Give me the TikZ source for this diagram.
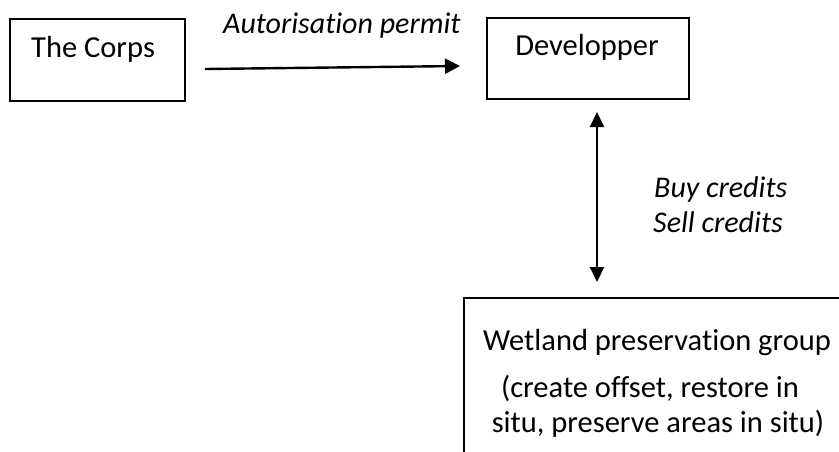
\documentclass[tikz,border=0pt]{standalone}
\usepackage{fontspec}
\setmainfont{Carlito}[Ligatures=NoCommon]
\usetikzlibrary{arrows.meta}
\begin{document}
\begin{tikzpicture}[x=1pt,y=-1pt,
  box/.style={draw, line width=1.5pt, inner sep=0pt, anchor=north west},
  txt/.style={inner sep=0pt, font=\fontsize{30.5}{36}\selectfont},
  itxt/.style={inner sep=0pt, font=\fontsize{30}{36}\selectfont\itshape},
  arr/.style={line width=2.4pt, -{Triangle[length=15pt,width=15pt]}},
  darr/.style={line width=2pt, {Triangle[length=15pt,width=14pt]}-{Triangle[length=15pt,width=14pt]}}]
\useasboundingbox (0,0) rectangle (839,451);
\clip (0,0) rectangle (839,451);
% boxes
\node[box, minimum width=175pt, minimum height=82pt] (corps) at (9,18) {};
\node[box, minimum width=202pt, minimum height=81pt] (dev) at (486,17) {};
\node[box, minimum width=420pt, minimum height=220pt] (wet) at (463,297) {};
% box texts
\node[txt, anchor=base west] (corpst) at (31,57) {The Corps};
\node[txt, anchor=base] (devt) at (587,55) {Developper};
\node[txt, anchor=base] (wet1) at (657,350) {Wetland preservation group};
\node[txt, anchor=base] (wet2) at (650,397) {(create offset, restore in};
\node[txt, anchor=base] (wet3) at (658,432) {situ, preserve areas in situ)};
% connectors
\coordinate (h1) at (205,69);
\coordinate (h2) at (460,66);
\draw[arr] (h1) -- (h2);
\coordinate (v1) at (597,112);
\coordinate (v2) at (597,282);
\draw[darr] (v1) -- (v2);
% labels
\node[itxt, anchor=base west] (lab1) at (223,33) {Autorisation permit};
\node[itxt, anchor=base west] (lab2) at (654,197) {Buy credits};
\node[itxt, anchor=base west] (lab3) at (653,232) {Sell credits};
\end{tikzpicture}
\end{document}
